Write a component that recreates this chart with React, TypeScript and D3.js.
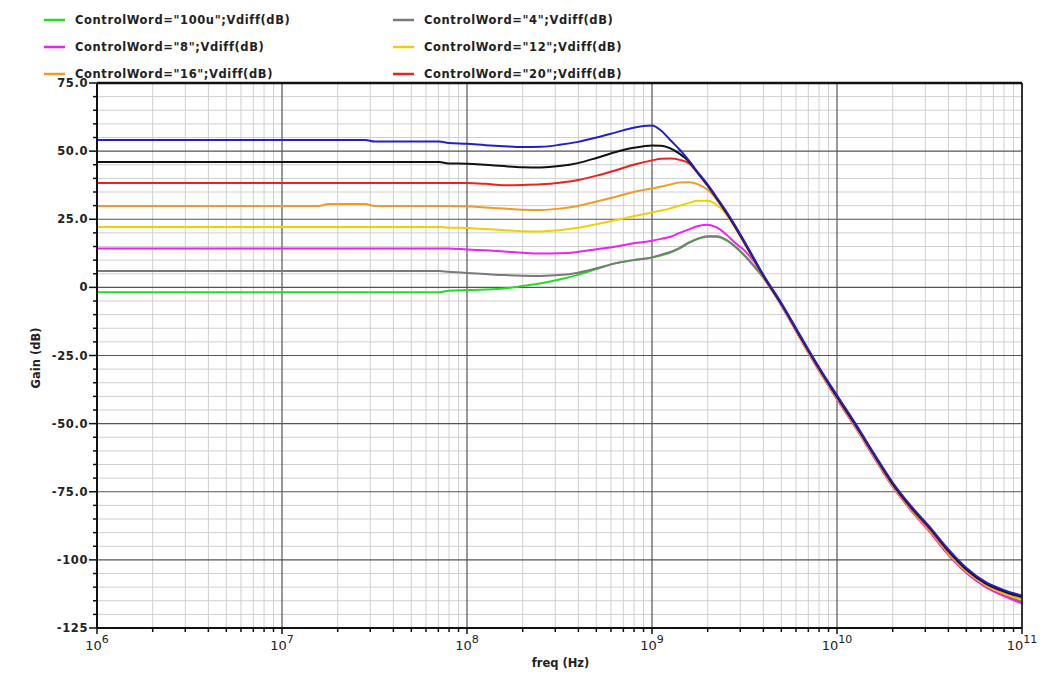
import React from 'react';
import * as d3 from 'd3';

// frequency points, as powers of ten (Hz)
const freqExp = [
  6, 7, 7.2, 7.25, 7.45, 7.5, 7.85, 7.9,
  8.0, 8.1, 8.2, 8.3, 8.4, 8.5, 8.6, 8.7, 8.8, 8.9,
  9.0, 9.05, 9.1, 9.15, 9.2, 9.25, 9.3, 9.35, 9.4, 9.45, 9.5, 9.55, 9.6,
  9.7, 9.8, 9.9, 10.0, 10.1, 10.2, 10.3, 10.4, 10.5, 10.6, 10.7, 10.8, 10.9, 11,
];

const gain100u = [
  -1.8, -1.8, -1.8, -1.8, -1.8, -1.8, -1.8, -1.2,
  -1.0, -0.8, -0.4, 0.5, 1.5, 2.9, 4.6, 6.7, 8.8, 10.0,
  11.0, 11.8, 12.8, 14.3, 16.3, 17.8, 18.6, 18.6, 17.3, 14.8, 11.6, 7.8, 3.7,
  -6.6, -18.5, -30.1, -40.9, -51.3, -62.2, -72.9, -81.7, -89.4, -97.8, -104.6, -109.5, -112.8, -115.3,
];
const gain4 = [
  6.0, 6.0, 6.0, 6.0, 6.0, 6.0, 6.0, 5.7,
  5.3, 4.9, 4.5, 4.3, 4.2, 4.5, 5.4, 7.0, 8.8, 10.0,
  11.0, 12.0, 13.0, 14.5, 16.5, 18.0, 18.8, 18.8, 17.5, 15.0, 11.8, 8.0, 3.8,
  -6.6, -18.5, -30.1, -40.9, -51.3, -62.2, -72.9, -81.7, -89.4, -97.8, -104.6, -109.6, -112.9, -115.5,
];
const gain8 = [
  14.3, 14.3, 14.3, 14.3, 14.3, 14.3, 14.3, 14.3,
  13.9, 13.6, 13.2, 12.7, 12.4, 12.5, 13.0, 14.0, 14.9, 16.2,
  17.1, 17.8, 18.6, 20.0, 21.3, 22.5, 23.0, 22.0, 19.5, 16.3, 13.5, 9.5, 4.0,
  -6.7, -18.6, -30.2, -41.0, -51.4, -62.3, -73.0, -81.8, -89.6, -98.0, -104.8, -109.8, -113.2, -116.0,
];
const gain12 = [
  22.2, 22.2, 22.2, 22.2, 22.2, 22.2, 22.2, 21.9,
  21.8, 21.4, 21.0, 20.6, 20.5, 21.0, 21.9, 23.2, 24.6, 26.1,
  27.5, 28.2, 29.0, 30.0, 31.0, 31.8, 31.8, 30.3, 27.0, 21.8, 16.0, 10.0, 4.1,
  -6.5, -18.4, -30.0, -40.7, -51.1, -62.0, -72.7, -81.5, -89.2, -97.5, -104.3, -109.2, -112.4, -114.6,
];
const gain16 = [
  29.9, 29.9, 29.9, 30.6, 30.6, 29.9, 29.9, 29.9,
  29.8, 29.3, 28.9, 28.5, 28.4, 28.9, 29.9, 31.5, 33.2, 35.0,
  36.3, 37.0, 37.8, 38.5, 38.6, 37.8, 35.8, 32.2, 27.4, 22.0, 16.2, 10.2, 4.2,
  -6.4, -18.2, -29.8, -40.5, -50.9, -61.8, -72.5, -81.3, -88.9, -97.2, -104.0, -108.9, -112.0, -114.2,
];
const gain20 = [
  38.3, 38.3, 38.3, 38.3, 38.3, 38.3, 38.3, 38.3,
  38.3, 38.0, 37.5, 37.6, 37.8, 38.4, 39.4, 41.0, 42.9, 45.0,
  46.6, 47.2, 47.3, 46.8, 45.5, 41.7, 37.3, 32.5, 27.5, 22.1, 16.3, 10.3, 4.3,
  -6.3, -18.1, -29.6, -40.3, -50.7, -61.6, -72.2, -81.0, -88.6, -96.8, -103.6, -108.3, -111.3, -113.0,
];
const gain24 = [
  46.0, 46.0, 46.0, 46.0, 46.0, 46.0, 46.0, 45.5,
  45.4, 45.0, 44.5, 44.1, 44.0, 44.5, 45.6, 47.5, 49.6, 51.2,
  52.1, 52.0, 51.0, 49.0, 46.2, 41.8, 37.5, 32.7, 27.7, 22.3, 16.5, 10.5, 4.5,
  -6.1, -17.8, -29.3, -40.0, -50.4, -61.3, -71.9, -80.6, -88.2, -96.5, -103.5, -108.5, -111.5, -113.6,
];
const gain28 = [
  54.1, 54.1, 54.1, 54.1, 54.1, 53.5, 53.5, 53.0,
  52.7, 52.2, 51.8, 51.5, 51.6, 52.3, 53.4, 55.0, 56.8, 58.6,
  59.4, 57.5, 54.0, 50.5, 46.5, 42.0, 37.8, 33.0, 28.0, 22.6, 16.8, 10.8, 4.8,
  -5.8, -17.5, -29.0, -39.6, -50.0, -61.0, -71.5, -80.2, -87.8, -96.0, -103.0, -108.0, -111.0, -113.2,
];

const series = [
  { name: 'ControlWord="100u";Vdiff(dB)', color: '#22dd22', values: gain100u },
  { name: 'ControlWord="4";Vdiff(dB)', color: '#7a7a7a', values: gain4 },
  { name: 'ControlWord="8";Vdiff(dB)', color: '#ee22ee', values: gain8 },
  { name: 'ControlWord="12";Vdiff(dB)', color: '#f2d000', values: gain12 },
  { name: 'ControlWord="16";Vdiff(dB)', color: '#f09a28', values: gain16 },
  { name: 'ControlWord="20";Vdiff(dB)', color: '#ee2020', values: gain20 },
  { name: '24', color: '#111111', values: gain24 },
  { name: '28', color: '#2020cc', values: gain28 },
];

const yTicks = [75, 50, 25, 0, -25, -50, -75, -100, -125];
const yTickLabels = ['75.0', '50.0', '25.0', '0', '-25.0', '-50.0', '-75.0', '-100', '-125'];
const decades = [6, 7, 8, 9, 10, 11];

const W = 1048;
const H = 686;
const left = 97, right = 1022, top = 83, bottom = 628;
const font = '"DejaVu Sans", Verdana, sans-serif';

export default function App() {
  const x = d3.scaleLog().domain([1e6, 1e11]).range([left, right]);
  const y = d3.scaleLinear().domain([-125, 75]).range([bottom, top]);

  const minorY = d3.range(-125, 76, 5).filter((v) => v % 25 !== 0);
  const minorX: number[] = [];
  decades.slice(0, -1).forEach((d) => {
    for (let m = 2; m <= 9; m++) minorX.push(m * 10 ** d);
  });

  const line = d3
    .line<number>()
    .x((_, i) => x(10 ** freqExp[i]))
    .y((v) => y(v))
    .curve(d3.curveMonotoneX);

  const legend = series.slice(0, 6);

  return (
    <svg width={W} height={H} style={{ position: 'absolute', left: 0, top: 0, display: 'block', background: '#fff' }}>
      <rect x={0} y={0} width={W} height={H} fill="#fff" />
      {/* grid */}
      <g>
        {minorY.map((v) => (
          <line key={'my' + v} x1={left} x2={right} y1={y(v)} y2={y(v)} stroke="#cfcfcf" strokeWidth={1} />
        ))}
        {minorX.map((v) => (
          <line key={'mx' + v} x1={x(v)} x2={x(v)} y1={top} y2={bottom} stroke="#cfcfcf" strokeWidth={1} />
        ))}
        {yTicks.map((v) => (
          <line key={'gy' + v} x1={left} x2={right} y1={y(v)} y2={y(v)} stroke="#555" strokeWidth={1.2} />
        ))}
        {decades.map((d) => (
          <line key={'gx' + d} x1={x(10 ** d)} x2={x(10 ** d)} y1={top} y2={bottom} stroke="#555" strokeWidth={1.2} />
        ))}
      </g>

      {/* curves */}
      <g fill="none" strokeWidth={2} strokeLinejoin="round">
        {series.map((s) => (
          <path key={s.name} d={line(s.values) || ''} stroke={s.color} />
        ))}
      </g>

      {/* frame */}
      <line x1={left} x2={right} y1={top} y2={top} stroke="#111" strokeWidth={2.5} />
      <line x1={left} x2={right} y1={bottom} y2={bottom} stroke="#111" strokeWidth={2} />
      <line x1={left} x2={left} y1={top} y2={bottom} stroke="#111" strokeWidth={2} />
      <line x1={right} x2={right} y1={top} y2={bottom} stroke="#111" strokeWidth={1.5} />

      {/* y ticks */}
      {minorY.map((v) => (
        <line key={'ty' + v} x1={left - 4} x2={left} y1={y(v)} y2={y(v)} stroke="#111" strokeWidth={1.5} />
      ))}
      {yTicks.map((v, i) => (
        <g key={'yt' + v}>
          <line x1={left - 8} x2={left} y1={y(v)} y2={y(v)} stroke="#111" strokeWidth={1.5} />
          <text x={left - 9} y={y(v) + 4} textAnchor="end" fontFamily={font} fontWeight="bold" fontSize={11.5} letterSpacing={0.6} fill="#222">
            {yTickLabels[i]}
          </text>
        </g>
      ))}

      {/* x ticks */}
      {minorX.map((v) => (
        <line key={'tx' + v} x1={x(v)} x2={x(v)} y1={bottom} y2={bottom + 4} stroke="#111" strokeWidth={1.5} />
      ))}
      {decades.map((d) => (
        <g key={'xt' + d}>
          <line x1={x(10 ** d)} x2={x(10 ** d)} y1={bottom} y2={bottom + 6} stroke="#111" strokeWidth={1.5} />
          <text x={x(10 ** d)} y={650} textAnchor="middle" fontFamily={font} fontSize={13} fill="#222">
            10<tspan dy={-7} fontSize={11}>{d}</tspan>
          </text>
        </g>
      ))}

      {/* axis titles */}
      <text x={(left + right) / 2 + 1} y={667} textAnchor="middle" fontFamily={font} fontWeight="bold" fontSize={11.5} fill="#222">
        freq (Hz)
      </text>
      <text transform={`translate(40, 358) rotate(-90)`} textAnchor="middle" fontFamily={font} fontWeight="bold" fontSize={11.5} fill="#222">
        Gain (dB)
      </text>

      {/* legend */}
      {legend.map((s, i) => {
        const col = i % 2;
        const row = Math.floor(i / 2);
        const lx = col === 0 ? 44 : 393;
        const ly = 20 + row * 27;
        return (
          <g key={'lg' + i}>
            <line x1={lx} x2={lx + 21} y1={ly} y2={ly} stroke={s.color} strokeWidth={2.5} />
            <text x={lx + 31} y={ly + 4} fontFamily={font} fontWeight="bold" fontSize={11.5} letterSpacing={0.6} fill="#222">
              {s.name}
            </text>
          </g>
        );
      })}
    </svg>
  );
}
